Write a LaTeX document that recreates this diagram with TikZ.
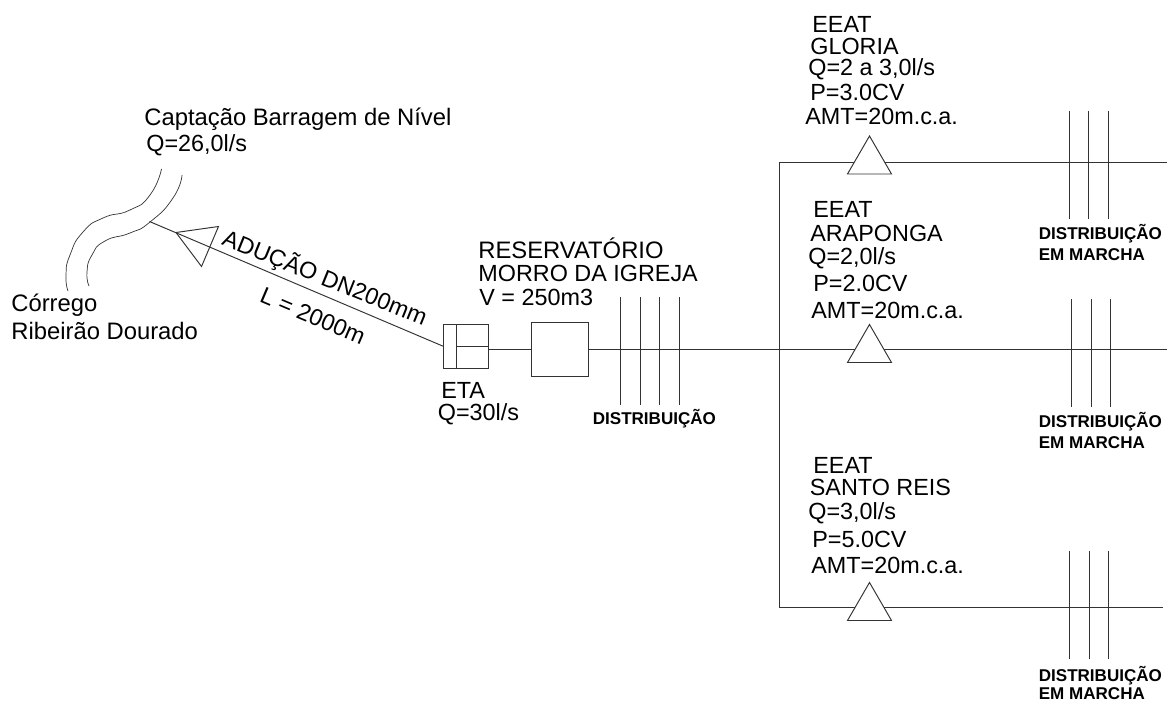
\documentclass[tikz,border=0pt]{standalone}
\usepackage{fontspec}
\setmainfont{Liberation Sans}
\usetikzlibrary{positioning, calc}
\definecolor{linha}{HTML}{333333}
\tikzset{
  rotulo/.style={anchor=base west, inner sep=0pt, font=\fontsize{13.3}{16}\selectfont},
  rotulog/.style={rotulo, font=\fontsize{13.55}{16}\selectfont},
  rotulob/.style={anchor=base west, inner sep=0pt, font=\fontsize{9.7}{12}\selectfont\bfseries},
  rede/.style={draw=linha, line width=0.55pt},
  caixa/.style={rede, inner sep=0pt, outer sep=0pt},
  pics/bomba/.style={code={\draw[rede, fill=white] (0,0) -- (-0.44,-0.76) -- (0.44,-0.76) -- cycle;}}
}
\begin{document}
\begin{tikzpicture}
  \useasboundingbox (0,0) rectangle (23.34,14.02);
  % rio
  \draw[rede, line width=0.4pt] plot[smooth, tension=1] coordinates
    {(3.23,10.64) (3.00,10.12) (2.60,9.82) (2.06,9.66) (1.66,9.38) (1.40,8.92) (1.32,8.52) (1.36,8.20)};
  \draw[rede, line width=0.4pt] plot[smooth, tension=1] coordinates
    {(3.64,10.52) (3.46,10.06) (3.00,9.58) (2.60,9.36) (2.10,9.20) (1.84,8.92) (1.74,8.58) (1.78,8.30)};
  % eta e reservatorio
  \node[caixa, minimum width=0.89cm, minimum height=0.89cm] (eta) at (9.32,7.09) {};
  \node[caixa, minimum width=1.15cm, minimum height=1.09cm] (reservatorio) at (11.20,7.03) {};
  \draw[rede] ($(eta.north west)+(0.25,0)$) -- ($(eta.south west)+(0.25,0)$);
  \draw[rede] ($(eta.west)+(0.25,0)$) -- (eta.east);
  \draw[rede] (reservatorio.west) -- (reservatorio.west -| eta.east);
  % adutora
  \coordinate (captacao) at (2.99,9.59);
  \draw[rede] (eta.west) -- (captacao);
  \draw[rede] (3.52,9.37) -- (4.37,9.49) -- (4.03,8.69) -- cycle;
  % linhas principais
  \coordinate (cantoa) at (15.58,10.77);
  \coordinate (cantob) at (15.58,1.87);
  \coordinate (fima) at (23.34,10.77);
  \coordinate (fimb) at (23.34,7.03);
  \coordinate (fimc) at (23.26,1.87);
  \draw[rede] (fima) -- (cantoa) -- (cantob) -- (fimc);
  \draw[rede] (reservatorio.east) -- (fimb);
  % ramais
  \foreach \x in {12.40,12.81,13.19,13.58}
    \draw[rede] (\x,8.07) -- (\x,5.92);
  \foreach \x in {21.38,21.77,22.16}
    \draw[rede] (\x,11.80) -- (\x,9.64);
  \foreach \x in {21.43,21.82,22.21}
    \draw[rede] (\x,8.03) -- (\x,5.87);
  \foreach \x in {21.39,21.78,22.17}
    \draw[rede] (\x,3.00) -- (\x,0.84);
  % bombas
  \pic (gloria) at (17.39,11.30) {bomba};
  \pic (araponga) at (17.39,7.53) {bomba};
  \pic (santoreis) at (17.39,2.37) {bomba};
  % textos
  \node[rotulog] (captext) at (2.88,11.50) {Captação Barragem de Nível};
  \node[rotulo] (capvazao) at (2.92,10.98) {Q=26,0l/s};
  \node[rotulog] (corrego) at (0.22,7.78) {Córrego};
  \node[rotulog] (ribeirao) at (0.22,7.22) {Ribeirão Dourado};
  \node[rotulo, anchor=center, rotate=-22] (adutext) at (6.50,8.46) {ADUÇÃO DN200mm};
  \node[rotulo, anchor=center, rotate=-23] (adulen) at (6.26,7.70) {L = 2000m};
  \node[rotulog] (restext) at (9.56,8.84) {RESERVATÓRIO};
  \node[rotulo] (resnome) at (9.56,8.38) {MORRO DA IGREJA};
  \node[rotulo] (resvol) at (9.58,7.91) {V = 250m3};
  \node[rotulo] (etatext) at (8.82,6.04) {ETA};
  \node[rotulo] (etavazao) at (8.75,5.61) {Q=30l/s};
  \node[rotulob] (distri) at (11.85,5.52) {DISTRIBUIÇÃO};
  % gloria
  \node[rotulo] (ga) at (16.24,13.36) {EEAT};
  \node[rotulo] (gb) at (16.20,12.92) {GLORIA};
  \node[rotulo] (gc) at (16.16,12.50) {Q=2 a 3,0l/s};
  \node[rotulo] (gd) at (16.20,12.00) {P=3.0CV};
  \node[rotulo] (ge) at (16.10,11.52) {AMT=20m.c.a.};
  % araponga
  \node[rotulo] (aa) at (16.26,9.66) {EEAT};
  \node[rotulo] (ab) at (16.20,9.18) {ARAPONGA};
  \node[rotulo] (ac) at (16.16,8.72) {Q=2,0l/s};
  \node[rotulo] (ad) at (16.26,8.18) {P=2.0CV};
  \node[rotulo] (ae) at (16.22,7.64) {AMT=20m.c.a.};
  % santo reis
  \node[rotulo] (sa) at (16.26,4.56) {EEAT};
  \node[rotulo] (sb) at (16.19,4.10) {SANTO REIS};
  \node[rotulo] (sc) at (16.16,3.64) {Q=3,0l/s};
  \node[rotulo] (sd) at (16.24,3.08) {P=5.0CV};
  \node[rotulo] (se) at (16.22,2.54) {AMT=20m.c.a.};
  % distribuicao em marcha
  \node[rotulob] (dma) at (20.77,9.22) {DISTRIBUIÇÃO};
  \node[rotulob] (dmb) at (20.77,8.80) {EM MARCHA};
  \node[rotulob] (dmc) at (20.77,5.46) {DISTRIBUIÇÃO};
  \node[rotulob] (dmd) at (20.77,5.04) {EM MARCHA};
  \node[rotulob] (dme) at (20.77,0.40) {DISTRIBUIÇÃO};
  \node[rotulob] (dmf) at (20.77,0.03) {EM MARCHA};
\end{tikzpicture}
\end{document}
